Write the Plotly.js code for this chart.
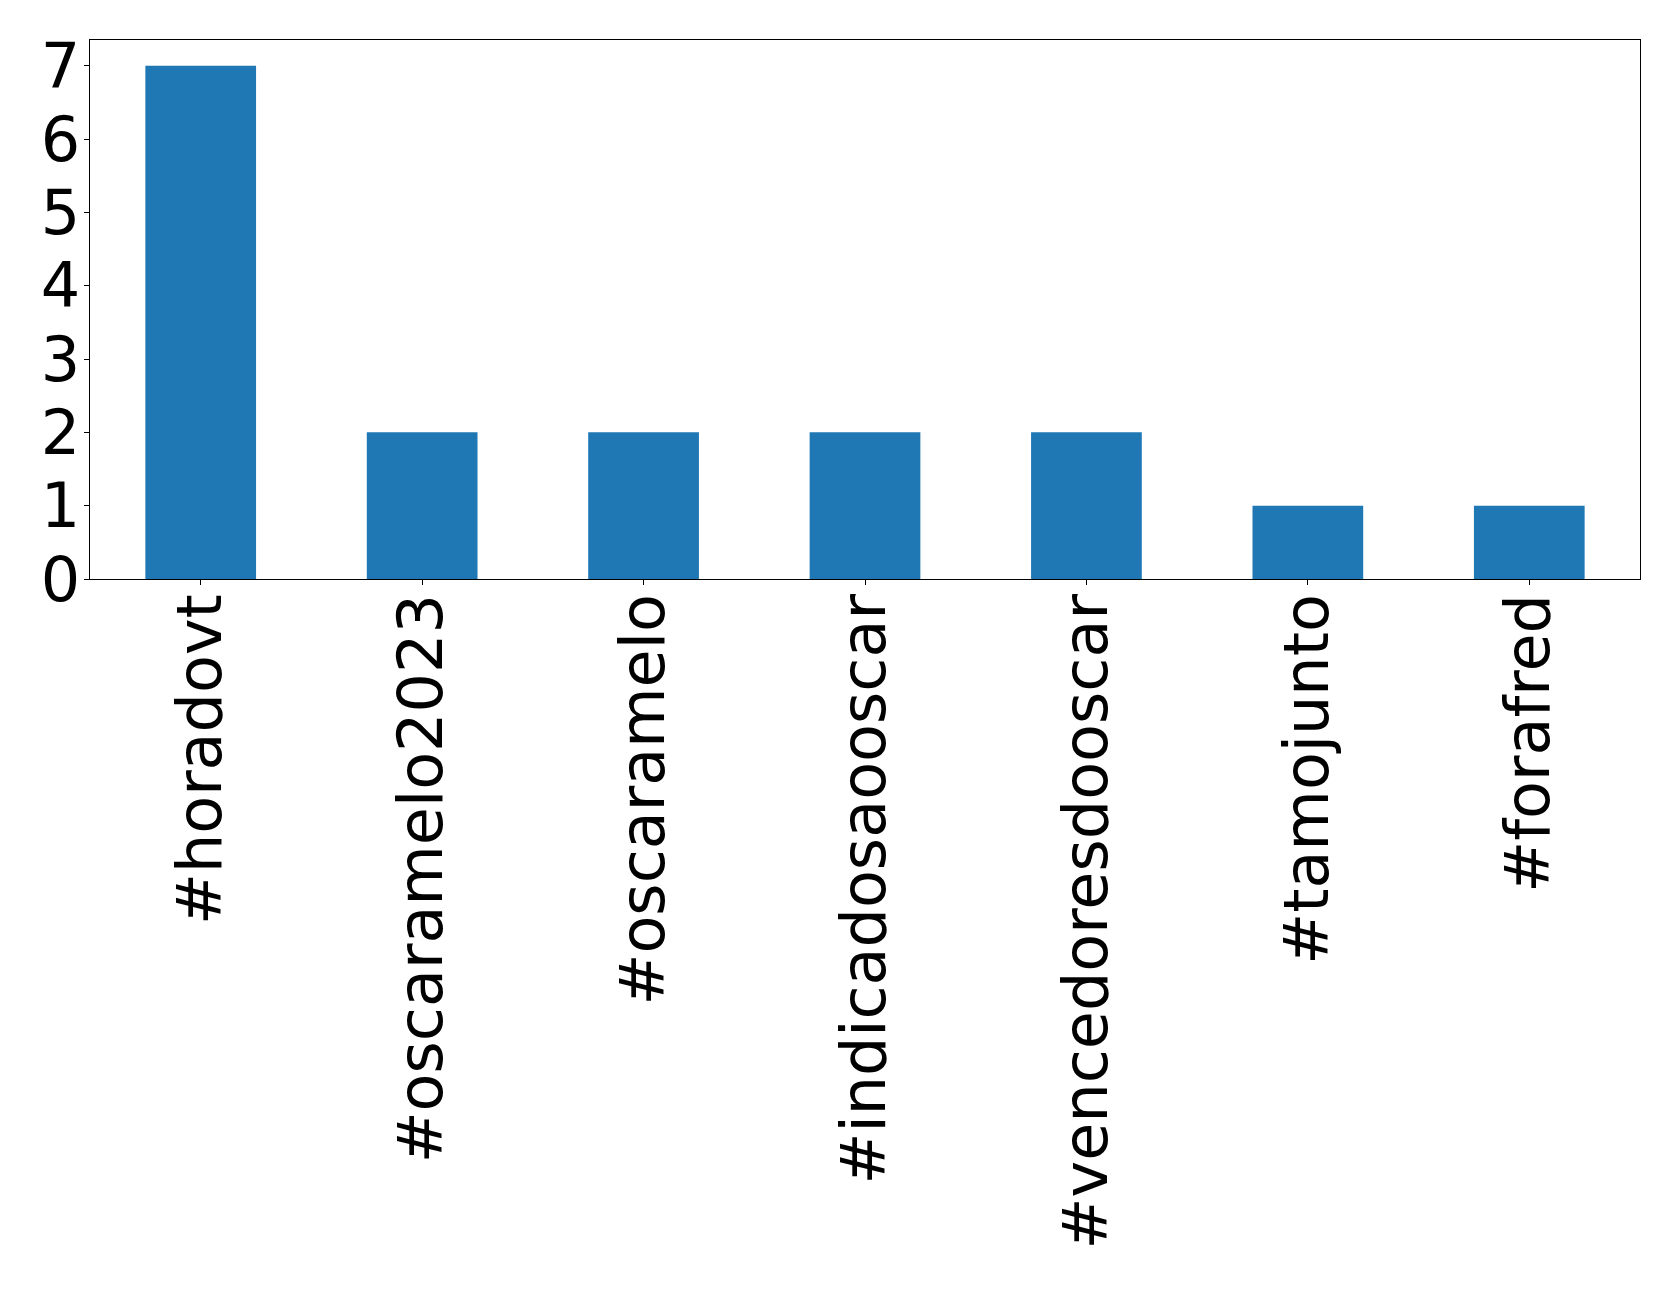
<!DOCTYPE html>
<html>
<head>
<meta charset="utf-8">
<script src="https://cdn.plot.ly/plotly-3.0.1.min.js"></script>
<style>html,body{margin:0;padding:0;background:#fff;}#chart{width:1679px;height:1289px;}</style>
</head>
<body>
<div id="chart"></div>
<script>
const categories = ["#horadovt", "#oscaramelo2023", "#oscaramelo", "#indicadosaooscar", "#vencedoresdooscar", "#tamojunto", "#forafred"];
const counts = [7, 2, 2, 2, 2, 1, 1];
const yTicks = [0, 1, 2, 3, 4, 5, 6, 7];

const trace = {
  type: "bar",
  x: categories,
  y: counts,
  width: 0.5,
  marker: {color: "#1f77b4", line: {width: 0}},
  hoverinfo: "skip"
};

const font = {family: "DejaVu Sans", size: 62, color: "#000"};

const layout = {
  width: 1679,
  height: 1289,
  margin: {l: 90, r: 39, t: 40, b: 710},
  paper_bgcolor: "#fff",
  plot_bgcolor: "#fff",
  showlegend: false,
  bargap: 0.5,
  xaxis: {
    type: "category",
    range: [-0.5, 6.5],
    tickangle: -90,
    tickfont: font,
    ticks: "outside",
    ticklen: 5,
    tickwidth: 1,
    tickcolor: "#000",
    ticklabelstandoff: -16,
    showline: true,
    linecolor: "#000",
    linewidth: 1.3,
    mirror: true,
    showgrid: false,
    zeroline: false,
    automargin: false
  },
  yaxis: {
    range: [0, 7.35],
    tickvals: yTicks,
    ticktext: yTicks.map(String),
    tickfont: font,
    ticks: "outside",
    ticklen: 5,
    tickwidth: 1,
    tickcolor: "#000",
    ticklabelstandoff: -9,
    showline: true,
    linecolor: "#000",
    linewidth: 1.3,
    mirror: true,
    showgrid: false,
    zeroline: false,
    automargin: false
  }
};

Plotly.newPlot("chart", [trace], layout, {staticPlot: true});
</script>
</body>
</html>
